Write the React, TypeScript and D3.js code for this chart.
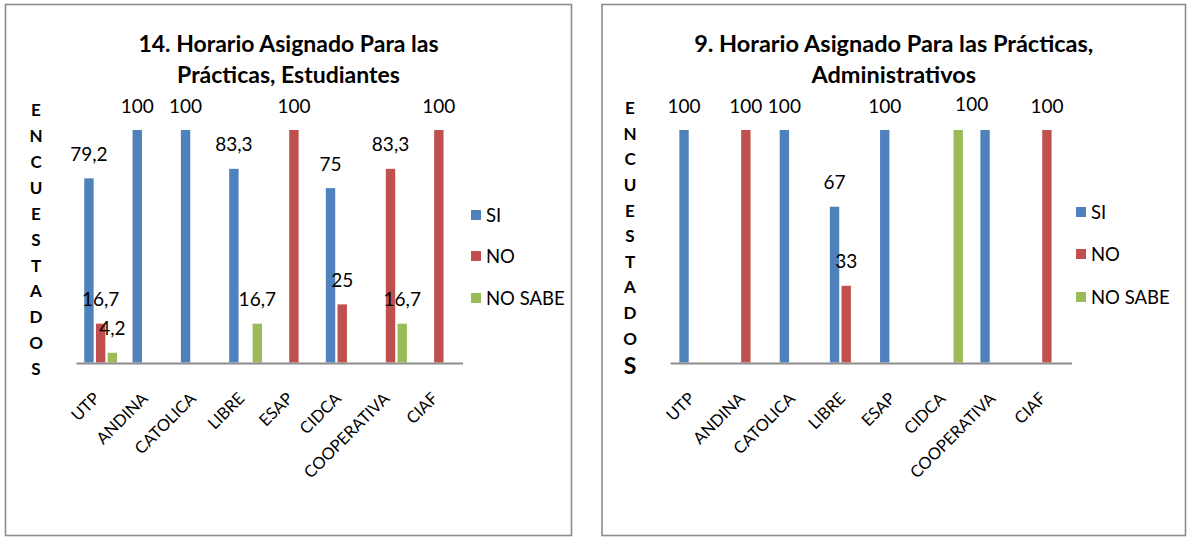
import React from "react";
import * as d3 from "d3";

const categories = ["UTP", "ANDINA", "CATOLICA", "LIBRE", "ESAP", "CIDCA", "COOPERATIVA", "CIAF"];
const seriesNames = ["SI", "NO", "NO SABE"];
const seriesColors = ["#4F81BD", "#C0504D", "#9BBB59"];

// 14. Estudiantes
const estSI = [79.2, 100, 100, 83.3, null, 75, null, null];
const estNO = [16.7, null, null, null, 100, 25, 83.3, 100];
const estNS = [4.2, null, null, 16.7, null, null, 16.7, null];

// 9. Administrativos
const admSI = [100, null, 100, 67, 100, null, 100, null];
const admNO = [null, 100, null, 33, null, null, null, 100];
const admNS = [null, null, null, null, null, 100, null, null];

const yLabelLetters = ["E", "N", "C", "U", "E", "S", "T", "A", "D", "O", "S"];
const yDomain = [0, 100];

const FONT = "Lato, 'Noto Sans', sans-serif";
const LABEL_SIZE = 19;

type ChartProps = {
  title: string[];
  titleSize: number;
  values: (number | null)[][];
  frame: { x0: number; x1: number; y0: number; y1: number };
  plot: { x0: number; x1: number; base: number; top: number; pad: number };
  yl: { x: number; y: number; step: number; lastSize: number; lastGap: number };
  legend: { x: number; ys: number[] };
};

function Chart({ title, titleSize, values, frame, plot, yl, legend }: ChartProps) {
  const x = d3.scaleBand<string>().domain(categories).range([plot.x0, plot.x1]).padding(0);
  const x1 = d3
    .scaleBand<string>()
    .domain(seriesNames)
    .range([plot.pad, x.bandwidth() - plot.pad])
    .padding(0);
  const y = d3.scaleLinear().domain(yDomain).range([plot.base, plot.top]);
  const bw = x1.bandwidth() - 2.3;
  const cx = (frame.x0 + frame.x1) / 2;
  const fmt = (v: number) => String(v).replace(".", ",");

  const bars: { key: string; x: number; v: number; color: string }[] = [];
  values.forEach((vals, si) =>
    vals.forEach((v, ci) => {
      if (v == null) return;
      const bx = (x(categories[ci]) as number) + (x1(seriesNames[si]) as number) + (x1.bandwidth() - bw) / 2;
      bars.push({ key: `${si}-${ci}`, x: bx, v, color: seriesColors[si] });
    })
  );

  // data labels; identical labels that would collide are merged into one (as in the source)
  const labels: { x: number; y: number; text: string; n: number }[] = [];
  [...bars]
    .sort((a, b) => a.x - b.x)
    .forEach((b) => {
      const text = fmt(b.v);
      const lx = b.x + bw / 2;
      const ly = y(b.v) - 17.5;
      const w = text.length * LABEL_SIZE * 0.55;
      const prev = labels.find((l) => l.text === text && Math.abs(l.y - ly) < 5 && Math.abs(l.x - lx) < w);
      if (prev) {
        prev.x = (prev.x * prev.n + lx) / (prev.n + 1);
        prev.n += 1;
      } else {
        labels.push({ x: lx, y: ly, text, n: 1 });
      }
    });

  return (
    <g>
      <rect
        x={frame.x0}
        y={frame.y0}
        width={frame.x1 - frame.x0}
        height={frame.y1 - frame.y0}
        fill="#fff"
        stroke="#8c8c8c"
        strokeWidth={1.6}
      />
      {title.map((t, i) => (
        <text
          key={i}
          x={cx}
          y={51.5 + i * 31.5}
          textAnchor="middle"
          fontFamily={FONT}
          fontWeight="bold"
          fontSize={titleSize}
          fill="#000"
        >
          {t}
        </text>
      ))}
      {yLabelLetters.map((l, i) => {
        const last = i === yLabelLetters.length - 1;
        const yy = yl.y + i * yl.step + (last ? yl.lastGap : 0);
        const fs = last ? yl.lastSize : 17;
        return (
          <text
            key={i}
            x={yl.x}
            y={yy + fs * 0.36}
            textAnchor="middle"
            fontFamily={FONT}
            fontWeight="bold"
            fontSize={fs}
            fill="#000"
          >
            {l}
          </text>
        );
      })}
      {bars.map((b) => (
        <rect key={b.key} x={b.x} y={y(b.v)} width={bw} height={y(0) - y(b.v)} fill={b.color} />
      ))}
      {labels.map((l, i) => (
        <text
          key={i}
          x={l.x}
          y={l.y - (l.n > 1 ? 2 : 0)}
          textAnchor="middle"
          fontFamily={FONT}
          fontSize={LABEL_SIZE}
          fill="#000"
        >
          {l.text}
        </text>
      ))}
      <line x1={plot.x0} x2={plot.x1} y1={plot.base + 1} y2={plot.base + 1} stroke="#8c8c8c" strokeWidth={2} />
      {categories.map((c) => {
        const ax = (x(c) as number) + x.bandwidth() / 2;
        const ay = plot.base + 37;
        return (
          <text
            key={c}
            x={ax}
            y={ay}
            transform={`rotate(-45 ${ax} ${ay})`}
            textAnchor="end"
            fontFamily={FONT}
            fontSize={16.5}
            fill="#000"
          >
            {c}
          </text>
        );
      })}
      {seriesNames.map((s, i) => (
        <g key={s}>
          <rect x={legend.x} y={legend.ys[i] - 5} width={10} height={10} fill={seriesColors[i]} />
          <text x={legend.x + 15} y={legend.ys[i] + 6.8} fontFamily={FONT} fontSize={18.5} fill="#000">
            {s}
          </text>
        </g>
      ))}
    </g>
  );
}

export default function App() {
  return (
    <svg
      width={1188}
      height={537}
      style={{ position: "absolute", left: 0, top: 0, background: "#fff" }}
    >
      <Chart
        title={["14. Horario Asignado Para las", "Prácticas, Estudiantes"]}
        titleSize={23}
        values={[estSI, estNO, estNS]}
        frame={{ x0: 5.5, x1: 571.5, y0: 4.5, y1: 535.5 }}
        plot={{ x0: 76.5, x1: 463, base: 362.5, top: 130, pad: 6.6 }}
        yl={{ x: 36, y: 110, step: 25.9, lastSize: 17, lastGap: 0 }}
        legend={{ x: 471, ys: [215, 256, 298] }}
      />
      <Chart
        title={["9. Horario Asignado Para las Prácticas,", "Administrativos"]}
        titleSize={23.5}
        values={[admSI, admNO, admNS]}
        frame={{ x0: 602, x1: 1185.5, y0: 4.5, y1: 535.5 }}
        plot={{ x0: 670.6, x1: 1072, base: 362.5, top: 130, pad: 7.6 }}
        yl={{ x: 630, y: 108, step: 25.6, lastSize: 23, lastGap: 1.5 }}
        legend={{ x: 1076, ys: [212, 254, 297] }}
      />
    </svg>
  );
}
